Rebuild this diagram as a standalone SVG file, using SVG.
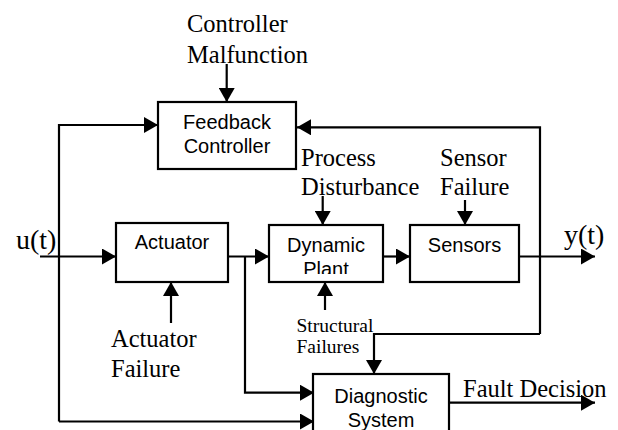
<svg xmlns="http://www.w3.org/2000/svg" width="618" height="430" viewBox="0 0 618 430">
<defs>
<style>
.box{fill:#fff;stroke:#000;stroke-width:2.2}
.s{font-family:"Liberation Sans",Arial,sans-serif;font-size:20px;fill:#000;text-anchor:middle}
.t{font-family:"Liberation Serif","Times New Roman",serif;font-size:24.5px;fill:#000}
.tb{font-family:"Liberation Serif","Times New Roman",serif;font-size:28px;fill:#000}
.ts{font-family:"Liberation Serif","Times New Roman",serif;font-size:19.5px;fill:#000}
.c{fill:none;stroke:#000;stroke-width:2.2}
</style>
<marker id="ah" markerUnits="userSpaceOnUse" markerWidth="15" markerHeight="16" refX="14" refY="8" orient="auto" viewBox="0 0 15 16">
<path d="M0,0 L14,8 L0,16 z" fill="#000"/>
</marker>
<clipPath id="clipPlant"><rect x="269" y="225" width="114" height="49"/></clipPath>
</defs>
<g id="connectors">
<path class="c" d="M226.7,64 V102" marker-end="url(#ah)"/>
<path class="c" d="M59,421.5 V125 H158" marker-end="url(#ah)"/>
<path class="c" d="M59,421.5 H314" marker-end="url(#ah)"/>
<path class="c" d="M40,256.5 H116" marker-end="url(#ah)"/>
<path class="c" d="M228,256.5 H269" marker-end="url(#ah)"/>
<path class="c" d="M245,256.5 V392.7 H314" marker-end="url(#ah)"/>
<path class="c" d="M383,256.5 H410" marker-end="url(#ah)"/>
<path class="c" d="M519,256.5 H595" marker-end="url(#ah)"/>
<path class="c" d="M540,334 V127.3 H297" marker-end="url(#ah)"/>
<path class="c" d="M540,334 H374 V374" marker-end="url(#ah)"/>
<path class="c" d="M322.7,196 V225" marker-end="url(#ah)"/>
<path class="c" d="M465,200 V225" marker-end="url(#ah)"/>
<path class="c" d="M325,310 V282" marker-end="url(#ah)"/>
<path class="c" d="M171,323 V282" marker-end="url(#ah)"/>
<path class="c" d="M449,402.7 H595" marker-end="url(#ah)"/>
</g>
<g id="feedback-controller">
<rect class="box" x="158" y="102" width="138" height="67"/>
<text class="s" x="227" y="128.5">Feedback</text>
<text class="s" x="227" y="153">Controller</text>
</g>
<g id="actuator">
<rect class="box" x="116" y="223" width="112" height="59"/>
<text class="s" x="172" y="249">Actuator</text>
</g>
<g id="dynamic-plant">
<rect class="box" x="269" y="225" width="114" height="57"/>
<g clip-path="url(#clipPlant)">
<text class="s" x="326" y="252">Dynamic</text>
<text class="s" x="326" y="276">Plant</text>
</g>
</g>
<g id="sensors">
<rect class="box" x="410" y="225" width="109" height="57"/>
<text class="s" x="464.5" y="252">Sensors</text>
</g>
<g id="diagnostic-system">
<rect class="box" x="313" y="374" width="136" height="70"/>
<text class="s" x="381" y="403">Diagnostic</text>
<text class="s" x="381" y="427">System</text>
</g>
<g id="labels">
<text class="t" x="187" y="32">Controller</text>
<text class="t" x="187" y="62.5">Malfunction</text>
<text class="t" x="301" y="165.5">Process</text>
<text class="t" x="301" y="195">Disturbance</text>
<text class="t" x="440" y="165.5">Sensor</text>
<text class="t" x="440" y="195">Failure</text>
<text class="tb" x="16" y="249">u(t)</text>
<text class="tb" x="564" y="244">y(t)</text>
<text class="t" x="111" y="346.7">Actuator</text>
<text class="t" x="111" y="376.7">Failure</text>
<text class="ts" x="296.5" y="331.5">Structural</text>
<text class="ts" x="296.5" y="353">Failures</text>
<text class="t" x="463" y="396.7">Fault Decision</text>
</g>
</svg>
